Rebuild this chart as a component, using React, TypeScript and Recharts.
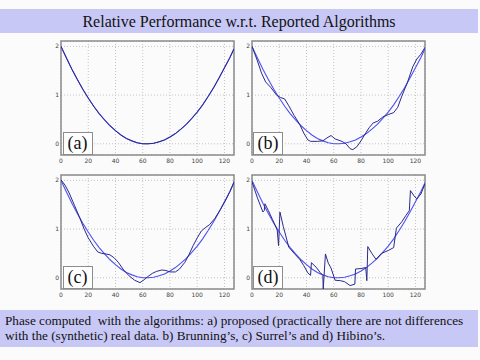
import React from "react";
import { LineChart, Line, XAxis, YAxis, CartesianGrid, ReferenceArea } from "recharts";

// ---- data ----
const xTicks = [0, 20, 40, 60, 80, 100, 120];
const yTicks = [0, 1, 2];

const idealX = [0, 4, 8, 12, 16, 20, 24, 28, 32, 36, 40, 44, 48, 52, 56, 60, 64, 68, 72, 76, 80, 84, 88, 92, 96, 100, 104, 108, 112, 116, 120, 124, 127];
const idealY = [2.0, 1.76, 1.53, 1.32, 1.12, 0.94, 0.77, 0.62, 0.49, 0.37, 0.27, 0.18, 0.11, 0.06, 0.02, 0.0, 0.0, 0.01, 0.04, 0.08, 0.14, 0.21, 0.3, 0.4, 0.52, 0.65, 0.8, 0.97, 1.15, 1.35, 1.56, 1.77, 1.95];

const proposedY = [2.0, 1.76, 1.53, 1.32, 1.12, 0.94, 0.77, 0.62, 0.49, 0.37, 0.27, 0.18, 0.11, 0.06, 0.02, 0.0, 0.0, 0.01, 0.04, 0.08, 0.14, 0.21, 0.3, 0.4, 0.52, 0.65, 0.8, 0.97, 1.15, 1.35, 1.56, 1.77, 1.95];

const brunningX = [0, 4, 7, 10, 14, 18, 21, 24, 27, 31, 35, 38, 41, 43, 48, 52, 55, 58, 61, 66, 69, 72, 74, 77, 80, 83, 86, 89, 92, 96, 100, 104, 107, 110, 114, 118, 121, 124, 127];
const brunningY = [2.0, 1.7, 1.45, 1.27, 1.15, 1.0, 0.95, 0.92, 0.78, 0.58, 0.4, 0.22, 0.08, 0.05, 0.05, 0.06, 0.12, 0.17, 0.1, 0.05, 0.0, -0.1, -0.12, -0.06, 0.06, 0.2, 0.33, 0.43, 0.46, 0.55, 0.6, 0.64, 0.75, 0.98, 1.25, 1.58, 1.74, 1.84, 1.98];

const surrelX = [0, 3, 6, 10, 13.5, 17, 20, 24, 27, 30, 33, 36, 39, 42, 46, 50, 54, 58, 61, 64, 67, 70, 74, 77, 80, 84, 87, 91, 94, 97, 100, 103, 106, 109, 113, 117, 121, 124, 127];
const surrelY = [2.01, 1.9, 1.74, 1.48, 1.25, 1.0, 0.82, 0.64, 0.53, 0.5, 0.49, 0.47, 0.41, 0.32, 0.16, 0.04, -0.05, -0.1, -0.04, 0.03, 0.09, 0.13, 0.16, 0.15, 0.12, 0.12, 0.18, 0.32, 0.48, 0.66, 0.82, 0.96, 1.03, 1.09, 1.22, 1.4, 1.6, 1.77, 1.97];

const hibinoX = [0, 4, 8, 9, 9.5, 12, 15, 18.5, 19.5, 20.5, 23, 27, 31, 35, 38, 41, 43, 43.6, 47, 50, 52, 52.3, 53.9, 56, 58, 61, 65, 68, 72, 75.5, 76, 80, 83.5, 84.3, 85, 88, 91, 95, 100, 104, 106, 110, 113, 115.5, 116.3, 119, 121, 124, 127];
const hibinoY = [1.97, 1.64, 1.35, 1.38, 1.52, 1.38, 1.2, 0.98, 0.66, 1.35, 1.05, 0.63, 0.5, 0.38, 0.25, 0.1, 0.05, 0.31, 0.22, 0.11, 0.05, -0.23, 0.49, 0.3, 0.2, -0.05, -0.06, -0.08, -0.16, -0.13, 0.18, 0.19, 0.21, -0.06, 0.64, 0.5, 0.38, 0.5, 0.56, 0.62, 1.02, 1.15, 1.28, 1.38, 1.79, 1.68, 1.62, 1.72, 1.93];

const panelLabels = ["(a)", "(b)", "(c)", "(d)"];
const titleText = "Relative Performance w.r.t. Reported Algorithms";
const captionLines = [
  "Phase computed  with the algorithms: a) proposed (practically there are not differences",
  "with the (synthetic) real data. b) Brunning\u2019s, c) Surrel\u2019s and d) Hibino\u2019s.",
];

// ---- helpers ----
const toPts = (xs: number[], ys: number[]) => xs.map((x, i) => ({ x, y: ys[i] }));
const idealPts = toPts(idealX, idealY);
const series = [
  toPts(idealX, proposedY),
  toPts(brunningX, brunningY),
  toPts(surrelX, surrelY),
  toPts(hibinoX, hibinoY),
];

const X_MIN = 0;
const X_MAX = 127;
const Y_MIN = -0.23;
const Y_MAX = 2.11;

const PLOT_W = 173;
const PLOT_H = 114;
const YAXIS_W = 10;
const XAXIS_H = 12;
const M = { top: 5, left: 2, right: 5, bottom: 4 };
const CW = M.left + YAXIS_W + PLOT_W + M.right;
const CH = M.top + PLOT_H + XAXIS_H + M.bottom;
const OFF_L = M.left + YAXIS_W;

const frames = [
  { left: 61, top: 41 },
  { left: 251.5, top: 41 },
  { left: 61, top: 175 },
  { left: 251.5, top: 175 },
];

const SERIF = "'Times New Roman', 'Liberation Serif', 'DejaVu Serif', serif";
const IDEAL_COLOR = "#4f4ff5";
const COMP_COLOR = "#2a2a8a";
const tickStyle = { fontSize: 6, fill: "#444", fontFamily: "DejaVu Sans" };

function Panel({ idx }: { idx: number }) {
  const f = frames[idx];
  return (
    <div style={{ position: "absolute", left: f.left - OFF_L, top: f.top - M.top, width: CW, height: CH }}>
      <LineChart width={CW} height={CH} margin={M}>
        <CartesianGrid stroke="#c4c4c4" strokeDasharray="1 2" />
        <XAxis
          type="number"
          dataKey="x"
          domain={[X_MIN, X_MAX]}
          ticks={xTicks}
          allowDataOverflow
          height={XAXIS_H}
          tickSize={1}
          tickMargin={3}
          axisLine={false}
          tickLine={false}
          tick={tickStyle}
          interval={0}
        />
        <YAxis
          type="number"
          dataKey="y"
          domain={[Y_MIN, Y_MAX]}
          ticks={yTicks}
          allowDataOverflow
          width={YAXIS_W}
          tickSize={1}
          tickMargin={1}
          axisLine={false}
          tickLine={false}
          tick={tickStyle}
          interval={0}
        />
        <ReferenceArea
          x1={X_MIN}
          x2={X_MAX}
          y1={Y_MIN}
          y2={Y_MAX}
          fill="none"
          stroke="#8c8c8c"
          strokeWidth={1.5}
          ifOverflow="visible"
        />
        <Line
          data={idealPts}
          dataKey="y"
          type="linear"
          stroke={IDEAL_COLOR}
          strokeWidth={1.1}
          dot={false}
          isAnimationActive={false}
        />
        <Line
          data={series[idx]}
          dataKey="y"
          type="linear"
          stroke={COMP_COLOR}
          strokeWidth={1}
          dot={false}
          isAnimationActive={false}
        />
      </LineChart>
      <div
        style={{
          position: "absolute",
          left: OFF_L + 1.5,
          top: M.top + PLOT_H - 23,
          width: 28,
          height: 21,
          background: "#ffffff",
          border: "1px solid #8c8c8c",
          fontFamily: SERIF,
          fontSize: 18,
          lineHeight: "21px",
          textAlign: "center",
          color: "#111",
        }}
      >
        {panelLabels[idx]}
      </div>
    </div>
  );
}

export default function App() {
  return (
    <div
      style={{
        position: "absolute",
        left: 0,
        top: 0,
        width: 480,
        height: 360,
        background: "#fbfbfb",
        overflow: "hidden",
      }}
    >
      <div
        style={{
          position: "absolute",
          left: 0,
          top: 9,
          width: 478,
          height: 24,
          background: "#c8c8f6",
          fontFamily: SERIF,
          fontSize: 16,
          lineHeight: "25px",
          textAlign: "center",
          color: "#111",
        }}
      >
        {titleText}
      </div>
      {[0, 1, 2, 3].map((i) => (
        <Panel key={i} idx={i} />
      ))}
      <div
        style={{
          position: "absolute",
          left: 0,
          top: 310,
          width: 478,
          height: 37,
          background: "#c8c8f6",
          fontFamily: SERIF,
          fontSize: 13.2,
          lineHeight: "15px",
          color: "#111",
          paddingTop: 3,
          boxSizing: "border-box",
        }}
      >
        {captionLines.map((t, i) => (
          <div key={i} style={{ paddingLeft: 5, whiteSpace: "pre" }}>
            {t}
          </div>
        ))}
      </div>
    </div>
  );
}
